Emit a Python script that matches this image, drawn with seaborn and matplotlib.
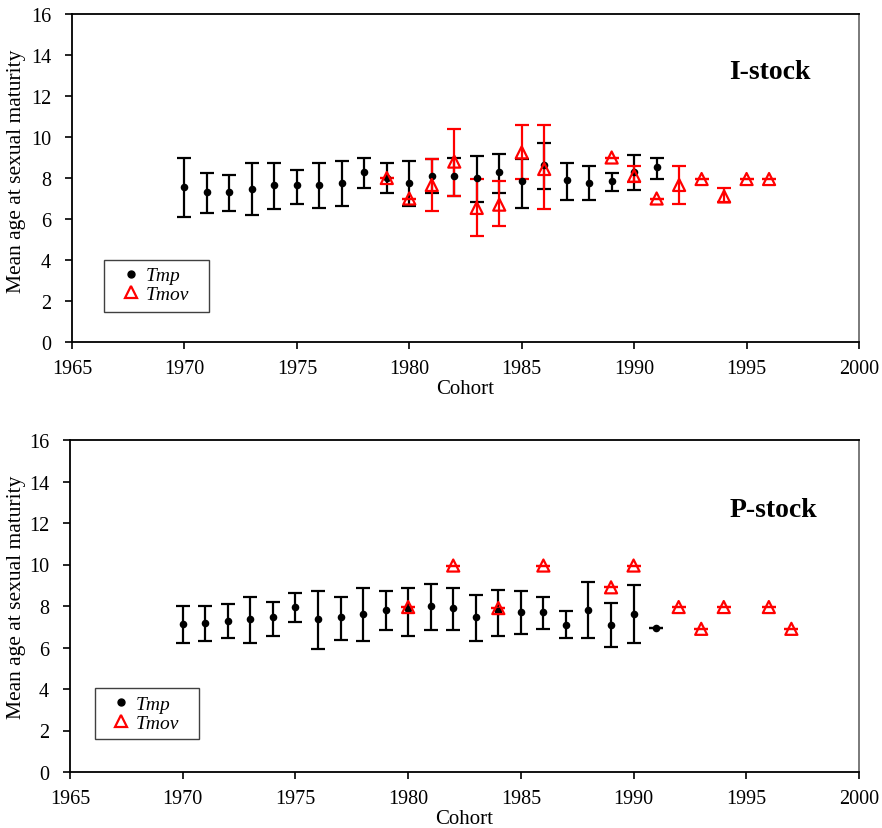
import matplotlib
matplotlib.use("Agg")
import matplotlib.pyplot as plt
import seaborn as sns
import numpy as np
import pandas as pd
from matplotlib.lines import Line2D
from matplotlib.patches import Rectangle

# ---------------- data ----------------
# I-stock, Tmp (black)
i_tmp_year = [1970, 1971, 1972, 1973, 1974, 1975, 1976, 1977, 1978, 1979, 1980,
              1981, 1982, 1983, 1984, 1985, 1986, 1987, 1988, 1989, 1990, 1991]
i_tmp_mean = [7.58, 7.32, 7.32, 7.48, 7.66, 7.66, 7.66, 7.76, 8.28, 8.0, 7.74,
              8.1, 8.1, 8.0, 8.28, 7.84, 8.63, 7.92, 7.74, 7.84, 8.28, 8.54]
i_tmp_low = [6.11, 6.29, 6.39, 6.21, 6.47, 6.73, 6.55, 6.65, 7.53, 7.27, 6.65,
             7.27, 7.1, 6.83, 7.27, 6.55, 7.45, 6.91, 6.91, 7.35, 7.43, 7.97]
i_tmp_high = [9.0, 8.23, 8.13, 8.75, 8.75, 8.39, 8.75, 8.83, 9.0, 8.75, 8.85,
              8.93, 9.0, 9.09, 9.19, 8.93, 9.72, 8.75, 8.57, 8.23, 9.1, 9.0]

# I-stock, Tmov (red)
i_tmov_year = [1979, 1980, 1981, 1982, 1983, 1984, 1985, 1986, 1989, 1990,
               1991, 1992, 1993, 1994, 1995, 1996]
i_tmov_mean = [8.0, 7.0, 7.66, 8.8, 6.54, 6.7, 9.25, 8.44, 9.0, 8.11,
               7.0, 7.66, 7.95, 7.1, 7.95, 7.95]
i_tmov_low = [8.0, 7.0, 6.39, 7.1, 5.16, 5.67, 7.95, 6.47, 9.0, 7.82,
              7.0, 6.73, 7.95, 6.81, 7.95, 7.95]
i_tmov_high = [8.0, 7.0, 8.93, 10.4, 7.95, 7.87, 10.6, 10.6, 9.0, 8.57,
               7.0, 8.57, 7.95, 7.51, 7.95, 7.95]

# P-stock, Tmp (black)
p_tmp_year = [1970, 1971, 1972, 1973, 1974, 1975, 1976, 1977, 1978, 1979, 1980,
              1981, 1982, 1983, 1984, 1985, 1986, 1987, 1988, 1989, 1990, 1991]
p_tmp_mean = [7.14, 7.2, 7.28, 7.38, 7.47, 7.97, 7.38, 7.47, 7.63, 7.82, 7.87,
              7.99, 7.89, 7.46, 7.74, 7.71, 7.71, 7.1, 7.79, 7.1, 7.63, 6.95]
p_tmp_low = [6.2, 6.29, 6.46, 6.2, 6.54, 7.25, 5.94, 6.38, 6.29, 6.83, 6.54,
             6.83, 6.83, 6.3, 6.54, 6.63, 6.89, 6.46, 6.46, 6.02, 6.2, 6.95]
p_tmp_high = [8.02, 8.02, 8.12, 8.45, 8.2, 8.63, 8.71, 8.45, 8.89, 8.71, 8.89,
              9.08, 8.89, 8.55, 8.79, 8.71, 8.45, 7.78, 9.15, 8.13, 8.99, 6.95]

# P-stock, Tmov (red)
p_tmov_year = [1980, 1982, 1984, 1986, 1989, 1990, 1992, 1993, 1994, 1996, 1997]
p_tmov_mean = [7.95, 9.95, 7.9, 9.95, 8.9, 9.95, 7.95, 6.9, 7.95, 7.95, 6.9]

x_ticks = [1965, 1970, 1975, 1980, 1985, 1990, 1995, 2000]
y_ticks = [0, 2, 4, 6, 8, 10, 12, 14, 16]
panel_titles = ["I-stock", "P-stock"]
legend_labels = ["Tmp", "Tmov"]
x_label = "Cohort"
y_label = "Mean age at sexual maturity"

# ---------------- style ----------------
sns.set_style("ticks")
plt.rcParams["font.family"] = ["Liberation Serif", "DejaVu Serif"]
for k in ["text.color", "axes.labelcolor", "xtick.color", "ytick.color"]:
    plt.rcParams[k] = "black"

fig = plt.figure(figsize=(8.82, 8.29), dpi=100)
ax1 = fig.add_axes([72 / 882, 1 - 343 / 829, 787 / 882, 328 / 829])
ax2 = fig.add_axes([70 / 882, 1 - 773 / 829, 789 / 882, 332 / 829])

RED = "#ff0000"


def draw_panel(ax, tmp_df, tmov_df, title, title_xy, box, leg_anchor, ylab_xy):
    ax.errorbar(tmp_df["year"], tmp_df["mean"],
                yerr=[tmp_df["mean"] - tmp_df["low"], tmp_df["high"] - tmp_df["mean"]],
                fmt="none", ecolor="black", elinewidth=1.6, capsize=5, capthick=1.6,
                zorder=2)
    if "low" in tmov_df:
        yerr = [tmov_df["mean"] - tmov_df["low"], tmov_df["high"] - tmov_df["mean"]]
    else:
        yerr = np.zeros(len(tmov_df))
    ax.errorbar(tmov_df["year"], tmov_df["mean"], yerr=yerr,
                fmt="none", ecolor=RED, elinewidth=1.6, capsize=5, capthick=1.6,
                zorder=3)
    sns.scatterplot(data=tmp_df, x="year", y="mean", ax=ax, color="black",
                    marker="o", s=30, edgecolor="black", linewidth=0, zorder=4,
                    legend=False)
    sns.scatterplot(data=tmov_df, x="year", y="mean", ax=ax, marker="^", s=75,
                    facecolors="none", edgecolor=RED, linewidth=1.6, zorder=5,
                    legend=False)

    ax.set_xlim(1965, 2000)
    ax.set_ylim(0, 16)
    ax.set_xticks(x_ticks)
    ax.set_yticks(y_ticks)
    ax.tick_params(axis="both", labelsize=14.5, length=5, width=1.2, color="black",
                   direction="out")
    ax.tick_params(axis="x", pad=7)
    ax.tick_params(axis="y", pad=10)
    for s in ["left", "bottom", "top"]:
        ax.spines[s].set_color("black")
        ax.spines[s].set_linewidth(1.3)
    ax.spines["right"].set_color("#707070")
    ax.spines["right"].set_linewidth(1.3)
    ax.set_xlabel(x_label, fontsize=15, labelpad=1)
    ax.set_ylabel(y_label, fontsize=15.5)
    ax.yaxis.set_label_coords(*ylab_xy)

    ax.text(title_xy[0], title_xy[1], title, transform=ax.transAxes,
            fontsize=20, fontweight="bold", ha="center", va="center")

    ax.add_patch(Rectangle((box[0], box[1]), box[2] - box[0], box[3] - box[1],
                           transform=ax.transAxes, facecolor="white",
                           edgecolor="#404040", linewidth=1.0, zorder=6))
    handles = [
        Line2D([], [], marker="o", color="black", linestyle="none", markersize=5),
        Line2D([], [], marker="^", markerfacecolor="none", markeredgecolor=RED,
               markeredgewidth=1.6, linestyle="none", markersize=8),
    ]
    leg = ax.legend(handles, legend_labels, loc="center left", bbox_to_anchor=leg_anchor,
                    frameon=False,
                    prop={"family": "Liberation Serif", "style": "italic", "size": 14},
                    handlelength=1.0, handletextpad=0.25, labelspacing=0.05,
                    borderpad=0, borderaxespad=0)
    leg.set_zorder(7)
    return leg


i_tmp = pd.DataFrame({"year": i_tmp_year, "mean": i_tmp_mean, "low": i_tmp_low, "high": i_tmp_high})
i_tmov = pd.DataFrame({"year": i_tmov_year, "mean": i_tmov_mean, "low": i_tmov_low, "high": i_tmov_high})
p_tmp = pd.DataFrame({"year": p_tmp_year, "mean": p_tmp_mean, "low": p_tmp_low, "high": p_tmp_high})
p_tmov = pd.DataFrame({"year": p_tmov_year, "mean": p_tmov_mean})

draw_panel(ax1, i_tmp, i_tmov, panel_titles[0], (0.887, 0.826),
           (0.041, 0.0915, 0.174, 0.25), (0.0627, 0.174), (-0.058, 0.524))
draw_panel(ax2, p_tmp, p_tmov, panel_titles[1], (0.891, 0.792),
           (0.0317, 0.0994, 0.1635, 0.253), (0.0524, 0.176), (-0.056, 0.53))

fig.savefig("out.png", dpi=100)
